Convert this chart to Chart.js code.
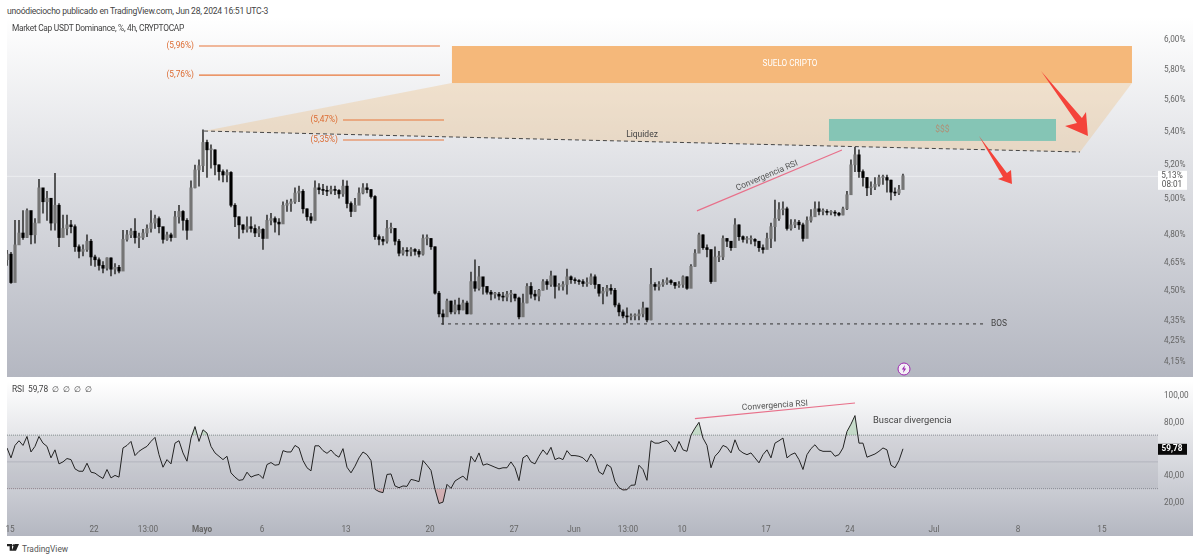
<!DOCTYPE html>
<html lang="es">
<head>
<meta charset="utf-8">
<title>Market Cap USDT Dominance</title>
<script src="https://cdn.jsdelivr.net/npm/chart.js@4"></script>
<style>
    html, body { margin: 0; padding: 0; background: #fff; }
    body { width: 1200px; height: 560px; position: relative; overflow: hidden; font-family: Roboto, sans-serif; color: #555; }
    .abs { position: absolute; white-space: nowrap; }
    #panelPrecio { left: 7px; top: 17px; width: 1186px; height: 360px; background: linear-gradient(#ffffff, #b4b7c1); }
    #panelRsi { left: 7px; top: 378px; width: 1186px; height: 158px; background: linear-gradient(#ffffff 2%, #b4b7c1); }
    canvas { position: absolute; left: 0; }
</style>
</head>
<body>
<div class="abs" id="panelPrecio"></div>
<div class="abs" id="panelRsi"></div>
<canvas id="graficoPrecio" width="1200" height="360" style="top:17px"></canvas>
<canvas id="graficoRsi" width="1200" height="158" style="top:378px"></canvas>
<div class="abs" style="left:7px;top:6px;font-size:8.6px;letter-spacing:-0.24px;color:#444">unoódieciocho publicado en TradingView.com, Jun 28, 2024 16:51 UTC-3</div>
<div class="abs" style="left:12px;top:22.5px;font-size:8.4px;letter-spacing:-0.28px;color:#444">Market Cap USDT Dominance, %, 4h, CRYPTOCAP</div>
<div class="abs" style="left:12px;top:383.5px;font-size:8.4px;letter-spacing:-0.1px;color:#444">RSI&nbsp; 59,78&nbsp; ∅&nbsp; ∅&nbsp; ∅&nbsp; ∅</div>
<svg class="abs" style="left:7px;top:544px" width="12" height="8" viewBox="0 0 36 24"><path d="M0 0h15v20H8V7H0zM23 0h13l-9 20H14z" fill="#222"/><circle cx="20" cy="4" r="3.5" fill="#222"/></svg>
<div class="abs" style="left:22px;top:544px;font-size:8.4px;color:#555">TradingView</div>
<svg class="abs" style="left:897px;top:362px" width="14" height="14" viewBox="0 0 14 14"><circle cx="7" cy="7" r="6" fill="#f4f0f6" stroke="#9c27b0" stroke-width="1"/><path d="M8 3 4.8 7.6h2L6 11l3.2-4.6h-2z" fill="#9c27b0"/></svg>

<script>
// Valores. Una vela cada 8h (la captura es de 4h y no se distingue vela a vela)
const primerDia = -0.25;
const pasoDia = 1 / 3;

const cierres = [
    4.69,4.54,4.74,4.805,4.78,4.93,4.795,4.86,5.06,4.98,5.00,4.86,4.96,4.78,4.83,
    4.85,4.84,4.73,4.705,4.715,4.76,4.675,4.66,4.63,4.615,4.67,4.61,4.62,4.60,4.77,
    4.795,4.815,4.78,4.78,4.805,4.83,4.86,4.885,4.84,4.77,4.795,4.78,4.895,4.925,4.875,
    4.82,5.06,5.165,5.19,5.33,5.285,5.285,5.195,5.155,5.135,5.15,4.96,4.895,4.85,4.825,
    4.84,4.83,4.805,4.825,4.775,4.875,4.885,4.865,4.855,4.96,4.97,4.98,5.03,5.04,4.94,
    4.895,4.875,5.06,5.05,5.045,5.04,5.05,5.045,5.025,5.07,4.97,4.925,4.96,5.03,5.06,
    5.05,5.01,4.785,4.77,4.76,4.83,4.83,4.76,4.695,4.71,4.705,4.715,4.705,4.69,4.775,
    4.775,4.73,4.485,4.38,4.365,4.445,4.39,4.425,4.40,4.435,4.38,4.545,4.51,4.57,4.52,
    4.49,4.48,4.48,4.47,4.465,4.48,4.48,4.46,4.365,4.435,4.52,4.48,4.47,4.50,4.545,
    4.53,4.575,4.52,4.52,4.53,4.57,4.555,4.55,4.545,4.535,4.535,4.57,4.53,4.485,4.495,
    4.51,4.50,4.425,4.39,4.37,4.365,4.37,4.37,4.38,4.41,4.35,4.53,4.52,4.53,4.54,
    4.55,4.54,4.525,4.53,4.57,4.51,4.625,4.695,4.795,4.725,4.715,4.545,4.675,4.675,4.775,
    4.76,4.725,4.85,4.785,4.77,4.77,4.77,4.76,4.725,4.715,4.775,4.84,4.885,4.935,4.94,
    4.83,4.85,4.865,4.85,4.775,4.875,4.895,4.94,4.925,4.925,4.92,4.92,4.915,4.905,4.94,
    5.02,5.195,5.255,5.155,5.12,5.06,5.065,5.08,5.12,5.12,5.105,5.035,5.03,5.05,5.13
];
const maximos = [
    4.71,4.70,4.875,4.875,4.93,4.94,4.86,4.885,5.11,5.03,5.04,4.95,5.145,4.97,4.905,
    4.905,4.875,4.85,4.74,4.74,4.795,4.77,4.685,4.67,4.65,4.67,4.67,4.64,4.63,4.82,
    4.82,4.83,4.885,4.805,4.825,4.85,4.93,4.905,4.895,4.82,4.81,4.805,4.925,4.96,4.93,
    4.885,5.10,5.194,5.225,5.407,5.345,5.315,5.285,5.195,5.165,5.165,5.155,4.97,4.895,4.85,
    4.895,4.895,4.85,4.84,4.83,4.905,4.915,4.895,4.885,4.98,4.99,4.995,5.06,5.07,5.05,
    4.94,4.915,5.10,5.085,5.08,5.07,5.07,5.07,5.05,5.105,5.10,4.98,5.00,5.06,5.085,
    5.085,5.05,5.015,4.795,4.785,4.875,4.86,4.83,4.77,4.725,4.725,4.725,4.72,4.715,4.795,
    4.795,4.775,4.73,4.495,4.40,4.455,4.445,4.45,4.46,4.45,4.445,4.595,4.66,4.625,4.565,
    4.51,4.50,4.49,4.49,4.49,4.495,4.50,4.48,4.465,4.48,4.535,4.54,4.50,4.505,4.555,
    4.555,4.60,4.565,4.535,4.545,4.61,4.575,4.565,4.555,4.555,4.565,4.585,4.58,4.53,4.515,
    4.525,4.53,4.51,4.435,4.40,4.41,4.38,4.38,4.40,4.44,4.39,4.615,4.54,4.545,4.555,
    4.565,4.555,4.54,4.545,4.575,4.57,4.635,4.715,4.805,4.795,4.74,4.685,4.73,4.705,4.79,
    4.775,4.76,4.885,4.85,4.79,4.785,4.79,4.775,4.76,4.74,4.805,4.86,4.99,4.975,4.98,
    4.95,4.88,4.88,4.875,4.86,4.895,4.935,4.98,4.98,4.94,4.935,4.93,4.93,4.92,4.95,
    5.04,5.225,5.30,5.285,5.165,5.12,5.095,5.12,5.135,5.135,5.135,5.105,5.06,5.075,5.14
];
const minimos = [
    4.63,4.535,4.56,4.76,4.77,4.78,4.745,4.75,4.915,4.915,4.875,4.82,4.82,4.73,4.785,
    4.795,4.805,4.705,4.67,4.68,4.705,4.63,4.625,4.605,4.59,4.605,4.575,4.585,4.59,4.605,
    4.76,4.78,4.75,4.725,4.77,4.785,4.81,4.83,4.805,4.75,4.765,4.76,4.795,4.86,4.82,
    4.77,4.83,5.06,5.07,5.155,5.12,5.175,5.135,5.105,5.095,5.095,4.95,4.84,4.775,4.805,
    4.81,4.81,4.785,4.785,4.715,4.83,4.85,4.81,4.795,4.905,4.925,4.925,4.97,4.98,4.915,
    4.875,4.86,4.875,5.025,5.02,5.015,5.025,5.02,5.00,5.01,4.945,4.895,4.925,4.98,5.025,
    5.03,5.00,4.77,4.74,4.74,4.75,4.805,4.74,4.68,4.685,4.68,4.68,4.685,4.675,4.685,
    4.74,4.715,4.48,4.365,4.328,4.375,4.38,4.38,4.38,4.40,4.38,4.38,4.495,4.50,4.48,
    4.48,4.45,4.46,4.45,4.445,4.445,4.44,4.445,4.355,4.41,4.435,4.46,4.45,4.445,4.50,
    4.505,4.52,4.46,4.50,4.50,4.48,4.535,4.535,4.53,4.52,4.52,4.53,4.51,4.47,4.43,
    4.47,4.48,4.415,4.37,4.36,4.335,4.35,4.35,4.35,4.365,4.34,4.35,4.50,4.50,4.52,
    4.53,4.53,4.51,4.515,4.515,4.505,4.535,4.625,4.715,4.715,4.675,4.535,4.625,4.65,4.66,
    4.73,4.71,4.775,4.765,4.755,4.75,4.745,4.735,4.705,4.695,4.725,4.725,4.76,4.875,4.905,
    4.82,4.82,4.835,4.825,4.76,4.785,4.865,4.915,4.905,4.905,4.905,4.905,4.90,4.90,4.905,
    4.935,5.05,5.155,5.12,5.07,5.015,5.02,5.05,5.07,5.08,5.035,4.99,5.015,5.02,5.06
];
const aperturaInicial = 4.66;

const rsiValores = [
    60.4,53,62.3,65.8,62.3,69,57.4,61.6,69,64,61.6,53,59,48.5,50,
    52.5,51.7,44.8,43,43,49,42.3,41.6,39.4,37.6,44.3,38,39.9,38.6,60.4,
    62.3,65.3,54.7,57.9,59.9,61.6,65.3,68.3,55.4,46,51.7,48.5,64,65.8,56.7,
    50.5,67.8,76.4,65.3,74,71.5,61.6,56.7,54.2,51.7,54.2,41.8,38.6,36.2,36.7,
    42.3,38.6,39.9,40.6,37.6,48,49.5,47.5,48,58.4,57.4,57.4,62.3,60.4,51,
    45.6,43.3,62,62,58.4,56.4,58.9,55.4,53.5,59.9,46,41.8,46.8,53,57.4,
    55.4,51,29.5,27.8,27,40.6,41,32,30.7,32,31.7,36.9,36.2,35.2,51,
    47.5,43.6,29.5,18.9,19.9,33.2,30.2,35.7,37.6,39.4,36.2,54.2,50,56.7,47.5,
    48.5,47.3,46,44.8,45.6,45.6,50,45.6,36,53,55,50,48.5,54.2,59,
    55.4,60.9,51.7,53,51.7,58.4,54.7,54.7,54.2,53,50,55.9,51.7,42.6,40.6,
    48,46,35.2,30.7,29,29.2,32.5,32.7,47.5,44.3,36.2,65.8,64,64,65.3,
    66,62.3,57.4,65.3,59,57.9,70,75.2,79.6,67.8,62.3,45.6,54.2,57.4,62.3,
    60.9,56.7,66.5,59,56.7,55.4,56.7,53,49.3,55.4,59,53,64,65.8,67.8,
    53,55.4,56.7,51.7,44.3,55.4,59.9,62.8,59,57.9,57.9,57.9,54.2,55.4,60.4,
    72.7,78.2,84.6,64,64,53.5,54.7,55.9,57.9,60.4,59,47.5,45.6,51,59.78
];

const ticksPrecio = [6.00, 5.80, 5.60, 5.40, 5.20, 5.00, 4.80, 4.65, 4.50, 4.35, 4.25, 4.15];
const ticksRsi = [100, 80, 40, 20];
const diasTiempo = [0, 7, 11.5, 16, 21, 28, 35, 42, 47, 51.5, 56, 63, 70, 77, 84, 91];
const etiquetasTiempo = ['15', '22', '13:00', 'Mayo', '6', '13', '20', '27', 'Jun', '13:00', '10', '17', '24', 'Jul', '8', '15'];
const etiquetasNegrita = ['Mayo'];

const precioActual = '5,13%';
const cuentaAtras = '08:01';
const rsiActual = '59,78';

// Dibujos de la captura, en [dia, precio]
const zonaLiquidez = [[16.17, 5.40], [36.83, 5.705], [93.5, 5.705], [89.17, 5.272]];
const sueloCripto = [36.83, 93.5, 5.952, 5.705];
const zonaDolares = [68.25, 87.17, 5.475, 5.339];
const lineaLiquidez = [[16.17, 5.40], [89.17, 5.272]];
const lineaBos = [[35.92, 4.33], [81.42, 4.33]];
const lineaConvergencia = [[57.25, 4.928], [69.33, 5.284]];
const nivelesNaranja = [
    { precio: 5.952, desde: 15.75, hasta: 35.83, texto: '(5,96%)' },
    { precio: 5.757, desde: 15.75, hasta: 35.83, texto: '(5,76%)' },
    { precio: 5.469, desde: 27.75, hasta: 36.17, texto: '(5,47%)' },
    { precio: 5.345, desde: 27.75, hasta: 36.17, texto: '(5,35%)' }
];
const flechaGrande = [[85.92, 5.784], [89.33, 5.481], [89.67, 5.519], [89.83, 5.369], [87.92, 5.431], [88.92, 5.45]];
const flechaPequena = [[80.75, 5.369], [83.08, 5.147], [83.42, 5.164], [83.5, 5.082], [82.33, 5.111], [82.75, 5.123]];

// RSI: [dia, valor]
const lineaConvergenciaRsi = [[57.08, 82.35], [70.42, 94]];

const fuente = 'Roboto, sans-serif';
const colorTexto = '#666';
const finDia = 95.67;

function dibujarPoligono(ctx, chart, puntos, color) {
    const x = chart.scales.x, y = chart.scales.y;
    ctx.beginPath();
    puntos.forEach(function (p, i) {
        if (i === 0) ctx.moveTo(x.getPixelForValue(p[0]), y.getPixelForValue(p[1]));
        else ctx.lineTo(x.getPixelForValue(p[0]), y.getPixelForValue(p[1]));
    });
    ctx.closePath();
    ctx.fillStyle = color;
    ctx.fill();
}

function dibujarLinea(ctx, chart, a, b, color, grueso, trazos) {
    const x = chart.scales.x, y = chart.scales.y;
    ctx.save();
    ctx.beginPath();
    ctx.setLineDash(trazos || []);
    ctx.moveTo(x.getPixelForValue(a[0]), y.getPixelForValue(a[1]));
    ctx.lineTo(x.getPixelForValue(b[0]), y.getPixelForValue(b[1]));
    ctx.strokeStyle = color;
    ctx.lineWidth = grueso;
    ctx.stroke();
    ctx.restore();
}

function dibujarTexto(ctx, chart, texto, dia, valor, color, tam, alineado, angulo) {
    ctx.save();
    ctx.translate(chart.scales.x.getPixelForValue(dia), chart.scales.y.getPixelForValue(valor));
    ctx.rotate((angulo || 0) * Math.PI / 180);
    ctx.font = tam + 'px ' + fuente;
    ctx.fillStyle = color;
    ctx.textAlign = alineado || 'center';
    ctx.textBaseline = 'middle';
    ctx.fillText(texto, 0, 0);
    ctx.restore();
}

const dibujosPrecio = {
    id: 'dibujosPrecio',
    beforeDatasetsDraw: function (chart) {
        const ctx = chart.ctx, x = chart.scales.x, y = chart.scales.y;
        dibujarPoligono(ctx, chart, zonaLiquidez, 'rgba(236,190,130,0.34)');
        // linea clara del precio actual
        ctx.fillStyle = 'rgba(255,255,255,0.45)';
        ctx.fillRect(chart.chartArea.left, y.getPixelForValue(cierres[cierres.length - 1]), chart.chartArea.width, 1);
        const s = sueloCripto;
        ctx.fillStyle = '#f5b87a';
        ctx.fillRect(x.getPixelForValue(s[0]), y.getPixelForValue(s[2]), x.getPixelForValue(s[1]) - x.getPixelForValue(s[0]), y.getPixelForValue(s[3]) - y.getPixelForValue(s[2]));
        const d = zonaDolares;
        ctx.fillStyle = '#85c5b5';
        ctx.fillRect(x.getPixelForValue(d[0]), y.getPixelForValue(d[2]), x.getPixelForValue(d[1]) - x.getPixelForValue(d[0]), y.getPixelForValue(d[3]) - y.getPixelForValue(d[2]));
    },
    afterDatasetsDraw: function (chart) {
        const ctx = chart.ctx, y = chart.scales.y;
        nivelesNaranja.forEach(function (n) {
            dibujarLinea(ctx, chart, [n.desde, n.precio], [n.hasta, n.precio], '#e8773a', 1.1);
            dibujarTexto(ctx, chart, n.texto, n.desde - 0.42, n.precio, '#dc6a30', 8.3, 'right');
        });
        dibujarLinea(ctx, chart, lineaLiquidez[0], lineaLiquidez[1], '#444', 1, [4, 3]);
        dibujarLinea(ctx, chart, lineaBos[0], lineaBos[1], '#333', 1, [3, 4]);
        dibujarLinea(ctx, chart, lineaConvergencia[0], lineaConvergencia[1], '#e8708a', 1.2);
        dibujarTexto(ctx, chart, 'SUELO CRIPTO', 65, 5.83, '#ffffff', 8.2);
        dibujarTexto(ctx, chart, '$$$', 77.7, 5.405, '#b08f76', 8.4);
        dibujarTexto(ctx, chart, 'Liquidez', 52.67, 5.375, '#444', 8.5);
        dibujarTexto(ctx, chart, 'BOS', 81.75, 4.33, '#444', 8.4, 'left');
        dibujarTexto(ctx, chart, 'Convergencia RSI', 63.08, 5.13, '#555', 8.5, 'center', -23);
        dibujarPoligono(ctx, chart, flechaGrande, '#f4433a');
        dibujarPoligono(ctx, chart, flechaPequena, '#f4433a');
        // etiqueta del precio actual
        const yp = y.getPixelForValue(cierres[cierres.length - 1]);
        ctx.fillStyle = '#fff';
        ctx.fillRect(1158, yp - 5, 29, 19);
        ctx.fillStyle = '#555';
        ctx.font = '8.2px ' + fuente;
        ctx.textAlign = 'center';
        ctx.textBaseline = 'middle';
        ctx.fillText(precioActual, 1172, yp);
        ctx.fillText(cuentaAtras, 1172, yp + 9);
    }
};

const dibujosRsi = {
    id: 'dibujosRsi',
    beforeDatasetsDraw: function (chart) {
        const ctx = chart.ctx, y = chart.scales.y, a = chart.chartArea;
        const y70 = y.getPixelForValue(70), y30 = y.getPixelForValue(30);
        ctx.fillStyle = 'rgba(110,112,125,0.13)';
        ctx.fillRect(a.left, y70, a.width, y30 - y70);
        dibujarLinea(ctx, chart, [primerDia, 70], [finDia, 70], '#8a8c94', 1, [1, 1]);
        dibujarLinea(ctx, chart, [primerDia, 30], [finDia, 30], '#8a8c94', 1, [1, 1]);
        dibujarLinea(ctx, chart, [primerDia, 50], [finDia, 50], 'rgba(120,122,130,0.35)', 0.8);
    },
    afterDatasetsDraw: function (chart) {
        const ctx = chart.ctx, y = chart.scales.y;
        dibujarLinea(ctx, chart, lineaConvergenciaRsi[0], lineaConvergenciaRsi[1], '#e8708a', 1.2);
        dibujarTexto(ctx, chart, 'Convergencia RSI', 63.75, 92, '#555', 8.5, 'center', -4);
        dibujarTexto(ctx, chart, 'Buscar divergencia', 71.92, 81, '#444', 9.3, 'left');
        const yp = y.getPixelForValue(rsiValores[rsiValores.length - 1]);
        ctx.fillStyle = '#0a0a0a';
        ctx.fillRect(1158, yp - 5, 29, 11);
        ctx.fillStyle = '#fff';
        ctx.font = 'bold 8.2px ' + fuente;
        ctx.textAlign = 'center';
        ctx.textBaseline = 'middle';
        ctx.fillText(rsiActual, 1172, yp + 0.5);
    }
};

function diaDeVela(i) {
    return primerDia + i * pasoDia;
}

function formatoComa(valor) {
    return valor.toFixed(2).replace('.', ',');
}

// sin relleno extra: el area del grafico tiene que llenar todo el panel
function sinRelleno(eje) {
    eje.paddingTop = 0;
    eje.paddingBottom = 0;
    eje.paddingLeft = 0;
    eje.paddingRight = 0;
}

function ejeDerecho(min, max, tipo, ticks, sufijo) {
    return {
        type: tipo,
        position: 'right',
        min: min,
        max: max,
        grid: { display: false, drawTicks: false },
        border: { display: false },
        afterBuildTicks: function (eje) { eje.ticks = ticks.map(function (v) { return { value: v }; }); },
        afterFit: function (eje) { eje.width = 42; sinRelleno(eje); },
        ticks: {
            padding: 6,
            labelOffset: 1,
            autoSkip: false,
            color: colorTexto,
            font: { family: fuente, size: 8.2 },
            callback: function (v) { return formatoComa(v) + sufijo; }
        }
    };
}

function inicializarPrecio() {
    const mechas = [], cuerpos = [], coloresCuerpo = [];
    cierres.forEach(function (cierre, i) {
        const apertura = i === 0 ? aperturaInicial : cierres[i - 1];
        mechas.push({ x: diaDeVela(i), y: [minimos[i], maximos[i]] });
        cuerpos.push({ x: diaDeVela(i), y: [apertura, cierre] });
        coloresCuerpo.push(cierre >= apertura ? '#757575' : '#000000');
    });

    new Chart(document.getElementById('graficoPrecio'), {
        type: 'bar',
        data: {
            datasets: [
                { data: cuerpos, backgroundColor: coloresCuerpo, barThickness: 2.5, minBarLength: 1, grouped: false, order: 1 },
                { data: mechas, backgroundColor: '#3a3a3a', barThickness: 1, grouped: false, order: 2 }
            ]
        },
        options: {
            responsive: false,
            animation: false,
            devicePixelRatio: 1,
            layout: { padding: { left: 7, right: 0, top: 0, bottom: 0 } },
            plugins: { legend: { display: false }, tooltip: { enabled: false } },
            scales: {
                x: { type: 'linear', min: primerDia, max: finDia, offset: false, display: false },
                y: ejeDerecho(4.0747, 6.153, 'logarithmic', ticksPrecio, '%')
            }
        },
        plugins: [dibujosPrecio]
    });
}

function inicializarRsi() {
    const puntos = rsiValores.map(function (v, i) { return { x: diaDeVela(i), y: v }; });

    new Chart(document.getElementById('graficoRsi'), {
        type: 'line',
        data: {
            datasets: [
                { data: puntos, borderColor: '#222', borderWidth: 1, pointRadius: 0, tension: 0, fill: false, order: 1 },
                { data: puntos, borderWidth: 0, pointRadius: 0, tension: 0, order: 2,
                  fill: { target: { value: 30 }, above: 'rgba(0,0,0,0)', below: 'rgba(244,67,54,0.2)' } },
                { data: puntos, borderWidth: 0, pointRadius: 0, tension: 0, order: 3,
                  fill: { target: { value: 70 }, above: 'rgba(76,175,80,0.22)', below: 'rgba(0,0,0,0)' } }
            ]
        },
        options: {
            responsive: false,
            animation: false,
            devicePixelRatio: 1,
            layout: { padding: { left: 7, right: 0, top: 0, bottom: 0 } },
            plugins: { legend: { display: false }, tooltip: { enabled: false } },
            scales: {
                x: {
                    type: 'linear',
                    min: primerDia,
                    max: finDia,
                    grid: { display: false, drawTicks: false },
                    border: { display: false },
                    afterBuildTicks: function (eje) { eje.ticks = diasTiempo.map(function (v) { return { value: v }; }); },
                    afterFit: function (eje) { eje.height = 19; sinRelleno(eje); },
                    ticks: {
                        padding: 8,
                        autoSkip: false,
                        maxRotation: 0,
                        color: colorTexto,
                        font: function (c) {
                            const negrita = etiquetasNegrita.indexOf(etiquetasTiempo[c.index]) >= 0;
                            return { family: fuente, size: 8.2, weight: negrita ? 'bold' : 'normal' };
                        },
                        callback: function (v, i) { return etiquetasTiempo[i]; }
                    }
                },
                y: ejeDerecho(8.8, 112.7, 'linear', ticksRsi, '')
            }
        },
        plugins: [dibujosRsi]
    });
}

document.addEventListener('DOMContentLoaded', function () {
    inicializarPrecio();
    inicializarRsi();
});
</script>
</body>
</html>
